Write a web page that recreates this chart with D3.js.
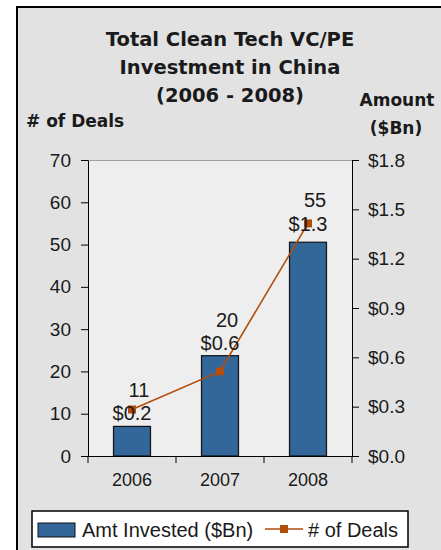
<!DOCTYPE html>
<html>
<head>
<meta charset="utf-8">
<script src="https://cdn.jsdelivr.net/npm/d3@7"></script>
<style>
  body { margin: 0; background: #fff; }
  text { font-family: "Liberation Sans", Arial, sans-serif; fill: #1a1a1a; }
  .bold { font-family: "DejaVu Sans", Verdana, sans-serif; font-weight: bold; }
  .axis path, .axis line { stroke: #000; }
</style>
</head>
<body>
<div id="chart"></div>
<script>
// data
var years = ["2006", "2007", "2008"];
var amounts = [0.18, 0.61, 1.30];   // $Bn, bars on right axis
var deals = [11, 20, 55];           // line on left axis
var dealTicks = [0, 10, 20, 30, 40, 50, 60, 70];
var amtTicks = [0, 0.3, 0.6, 0.9, 1.2, 1.5, 1.8];
var titleLines = ["Total Clean Tech VC/PE", "Investment in China", "(2006 - 2008)"];

var W = 441, H = 550;
var plot = {left: 88, right: 352, top: 160, bottom: 456};
var barColor = "#336699", lineColor = "#b34d0a";

var svg = d3.select("#chart").append("svg")
    .attr("width", W)
    .attr("height", H);

// frame (runs off the right and bottom edge)
svg.append("rect")
    .attr("x", 17).attr("y", 7)
    .attr("width", W).attr("height", H)
    .attr("fill", "#e2e2e2")
    .attr("stroke", "#000")
    .attr("stroke-width", 2);

// plot area
svg.append("rect")
    .attr("x", plot.left).attr("y", plot.top)
    .attr("width", plot.right - plot.left).attr("height", plot.bottom - plot.top)
    .attr("fill", "#eeeeee");
svg.append("line")
    .attr("x1", plot.left).attr("x2", plot.right)
    .attr("y1", plot.top + 0.5).attr("y2", plot.top + 0.5)
    .attr("stroke", "#a0a0a0");

var x = d3.scaleBand().domain(years).range([plot.left, plot.right]);
var yDeals = d3.scaleLinear().domain([0, 70]).range([plot.bottom, plot.top]);
var yAmt = d3.scaleLinear().domain([0, 1.8]).range([plot.bottom, plot.top]);

var barW = 37;

// bars
svg.append("g").selectAll("rect")
    .data(years)
    .enter().append("rect")
    .attr("x", function(d) { return x(d) + x.bandwidth() / 2 - barW / 2; })
    .attr("y", function(d, i) { return yAmt(amounts[i]); })
    .attr("width", barW)
    .attr("height", function(d, i) { return plot.bottom - yAmt(amounts[i]); })
    .attr("fill", barColor)
    .attr("stroke", "#111")
    .attr("stroke-width", 1.2);

// axes
var leftAxis = svg.append("g")
    .attr("class", "axis")
    .attr("transform", "translate(" + plot.left + ",0)")
    .call(d3.axisLeft(yDeals).tickValues(dealTicks).tickSize(7).tickSizeOuter(0).tickPadding(10));
leftAxis.selectAll("text").style("font-size", "19px");

var rightAxis = svg.append("g")
    .attr("class", "axis")
    .attr("transform", "translate(" + plot.right + ",0)")
    .call(d3.axisRight(yAmt).tickValues(amtTicks).tickSize(7).tickSizeOuter(0).tickPadding(9)
      .tickFormat(function(d) { return "$" + d3.format(".1f")(d); }));
rightAxis.selectAll("text").style("font-size", "19px");

var xAxis = svg.append("g")
    .attr("class", "axis")
    .attr("transform", "translate(0," + plot.bottom + ")")
    .call(d3.axisBottom(x).tickSize(0).tickPadding(17));
xAxis.selectAll("text").style("font-size", "18px");
xAxis.select(".domain").attr("d", "M" + (plot.left - 7) + ",0.5H" + (plot.right + 7));
// boundary ticks between categories
xAxis.selectAll(".sep")
    .data(d3.range(years.length + 1))
    .enter().append("line")
    .attr("class", "sep")
    .attr("x1", function(i) { return plot.left + i * x.step(); })
    .attr("x2", function(i) { return plot.left + i * x.step(); })
    .attr("y1", 0).attr("y2", 7)
    .attr("stroke", "#000");

// deals line
var line = d3.line()
    .x(function(d, i) { return x(years[i]) + x.bandwidth() / 2; })
    .y(function(d) { return yDeals(d); });
svg.append("path")
    .datum(deals)
    .attr("d", line)
    .attr("fill", "none")
    .attr("stroke", lineColor)
    .attr("stroke-width", 1.6);
svg.append("g").selectAll("rect")
    .data(deals)
    .enter().append("rect")
    .attr("x", function(d, i) { return x(years[i]) + x.bandwidth() / 2 - 4; })
    .attr("y", function(d) { return yDeals(d) - 4; })
    .attr("width", 8).attr("height", 8)
    .attr("fill", lineColor);

// data labels
svg.append("g").selectAll("text")
    .data(amounts)
    .enter().append("text")
    .attr("x", function(d, i) { return x(years[i]) + x.bandwidth() / 2; })
    .attr("y", function(d, i) { return yAmt(d) - (i == 2 ? 11 : 6); })
    .attr("text-anchor", "middle")
    .style("font-size", "20px")
    .text(function(d) { return "$" + d3.format(".1f")(d); });
svg.append("g").selectAll("text")
    .data(deals)
    .enter().append("text")
    .attr("x", function(d, i) { return x(years[i]) + x.bandwidth() / 2 + 7; })
    .attr("y", function(d, i) { return yAmt(amounts[i]) - (i == 2 ? 35 : 29); })
    .attr("text-anchor", "middle")
    .style("font-size", "20px")
    .text(function(d) { return d; });

// titles
svg.append("g").selectAll("text")
    .data(titleLines)
    .enter().append("text")
    .attr("class", "bold")
    .attr("x", 230)
    .attr("y", function(d, i) { return 46 + i * 28; })
    .attr("text-anchor", "middle")
    .style("font-size", "19.5px")
    .text(function(d) { return d; });

svg.append("text")
    .attr("class", "bold")
    .attr("x", 26).attr("y", 127)
    .style("font-size", "17px")
    .text("# of Deals");
svg.append("text")
    .attr("class", "bold")
    .attr("x", 397).attr("y", 106)
    .attr("text-anchor", "middle")
    .style("font-size", "17px")
    .text("Amount");
svg.append("text")
    .attr("class", "bold")
    .attr("x", 396).attr("y", 134)
    .attr("text-anchor", "middle")
    .style("font-size", "17px")
    .text("($Bn)");

// legend
var lg = svg.append("g").attr("transform", "translate(32,511)");
lg.append("rect")
    .attr("width", 376).attr("height", 36)
    .attr("fill", "#fff").attr("stroke", "#000").attr("stroke-width", 1.5);
lg.append("rect")
    .attr("x", 6).attr("y", 12).attr("width", 37).attr("height", 14)
    .attr("fill", barColor).attr("stroke", "#111");
lg.append("text")
    .attr("x", 50).attr("y", 26)
    .style("font-size", "20px")
    .text("Amt Invested ($Bn)");
lg.append("line")
    .attr("x1", 233).attr("x2", 271).attr("y1", 18).attr("y2", 18)
    .attr("stroke", lineColor).attr("stroke-width", 1.6);
lg.append("rect")
    .attr("x", 248).attr("y", 14).attr("width", 8).attr("height", 8)
    .attr("fill", lineColor);
lg.append("text")
    .attr("x", 276).attr("y", 26)
    .style("font-size", "20px")
    .text("# of Deals");
</script>
</body>
</html>
